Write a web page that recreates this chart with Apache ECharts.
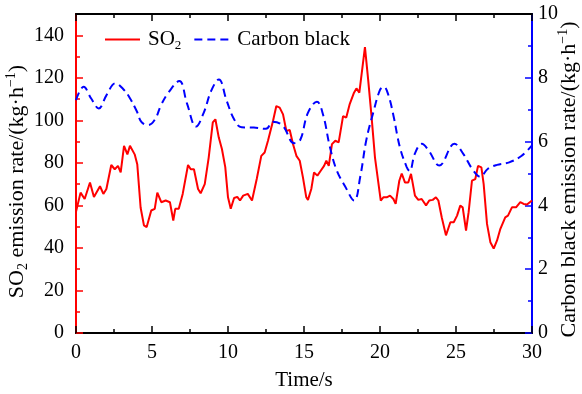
<!DOCTYPE html>
<html>
<head>
<meta charset="utf-8">
<script src="https://cdn.jsdelivr.net/npm/echarts@6/dist/echarts.min.js"></script>
<style>html,body{margin:0;padding:0;background:#fff;}#c{width:582px;height:394px;}</style>
</head>
<body>
<div id="c"></div>
<script>
// Time (s) and SO2 emission rate (kg/h)
const timeSO2 = [0,0.3,0.57,0.92,1.18,1.58,1.8,2.0,2.32,2.55,2.76,2.94,3.16,3.38,3.55,3.86,4.03,4.25,4.47,4.65,4.95,5.18,5.35,5.61,5.9,6.18,6.4,6.53,6.76,7.02,7.37,7.55,7.76,8.03,8.2,8.47,8.73,9.0,9.17,9.39,9.6,9.82,10.0,10.18,10.4,10.61,10.79,11.0,11.3,11.58,11.89,12.19,12.41,12.63,12.96,13.18,13.4,13.62,13.84,14.06,14.28,14.5,14.72,14.93,15.15,15.26,15.48,15.66,15.88,16.1,16.32,16.47,16.63,16.84,17.06,17.28,17.57,17.78,18.0,18.29,18.45,18.64,19.01,19.23,19.45,19.67,20.05,20.22,20.44,20.66,20.88,21.03,21.27,21.43,21.64,21.86,22.04,22.3,22.52,22.74,23.03,23.24,23.47,23.68,23.84,24.06,24.34,24.63,24.85,25.07,25.28,25.44,25.66,25.83,26.05,26.27,26.45,26.67,26.82,27.04,27.26,27.48,27.7,27.92,28.24,28.42,28.68,28.95,29.23,29.45,29.67,30.0];
const so2 = [57,66,63,70.8,64,69,65.4,67.7,79,77,78.6,75.5,88,84,88,84,79.4,59,50.6,49.8,57.6,58.4,66,61.5,62.3,61.5,52.9,58.4,58.4,65.4,79,77,77,67.7,65.7,70,82.5,99,100.5,92,86.5,78,63.8,58.4,63.5,64,62.3,64.6,65.4,62.3,72.4,83.3,84.9,90.4,99.7,106.7,106,102.8,95,95.5,88.8,83.3,81,73.2,63.8,62.6,67.7,75.5,74,76.3,78.6,81,78.6,88.8,90.4,89.6,102,101.3,107.5,113,115,113,134.4,118.4,101.3,82.5,62.3,63.8,63.8,64.6,63,60.7,71.6,75,70.8,70.8,74.8,64.6,62.6,63,60,62.3,62.6,63.8,62.3,54.4,45.9,52.1,52.1,55.2,59.9,59.1,48.2,56.8,71.6,72.4,78.6,77.9,70,51.3,42.7,39.7,43.5,49,54.4,55.2,59.1,59.1,61.5,60.7,60.4,62.3];

// Time (s) and carbon black emission rate (kg/h)
const timeCB = [0,0.5,1.0,1.5,2.0,2.6,3.1,3.5,4.0,4.3,4.75,5.2,5.6,6.1,6.8,7.3,7.9,8.4,8.9,9.4,9.9,10.4,10.9,11.7,12.5,12.95,13.6,14.35,14.75,15.25,15.85,16.25,16.7,17.15,17.7,18.3,18.7,19.1,19.55,20.0,20.25,20.55,20.9,21.3,21.75,21.95,22.3,22.75,23.2,23.9,24.9,25.5,26.1,26.6,27.1,27.7,28.5,29.3,30.0];
const carbonBlack = [7.3,7.72,7.35,7.04,7.45,7.83,7.65,7.4,6.95,6.62,6.52,6.7,7.15,7.55,7.9,7.2,6.47,6.9,7.6,7.95,7.3,6.7,6.45,6.44,6.4,6.62,6.5,5.95,6.05,6.89,7.25,6.85,5.84,5.1,4.6,4.15,4.9,6.05,6.9,7.62,7.72,7.46,6.78,5.84,5.21,5.08,5.63,5.93,5.72,5.25,5.93,5.6,5.12,4.9,5.15,5.27,5.35,5.55,5.88];

const SO2_MAX = 150;

const FONT = "'Liberation Serif','Times New Roman',serif";
const RED = '#ff0000';
const BLUE = '#0000ff';

function rich(size) {
  return {
    n: {fontFamily: FONT, fontSize: size, lineHeight: size + 4, color: '#000'},
    sub: {fontFamily: FONT, fontSize: Math.round(size * 0.62), lineHeight: Math.round(size * 0.62), verticalAlign: 'bottom', color: '#000'},
    sup: {fontFamily: FONT, fontSize: Math.round(size * 0.62), lineHeight: Math.round(size * 0.62), verticalAlign: 'top', color: '#000'}
  };
}

const chart = echarts.init(document.getElementById('c'), null, {renderer: 'canvas'});

function xAxisBase(position, showLabel) {
  return {
    show: true,
    type: 'value', min: 0, max: 30, interval: 5, position: position,
    splitLine: {show: false},
    axisLine: {show: true, onZero: false, lineStyle: {color: '#000', width: 2}},
    axisTick: {show: true, inside: true, length: 7, lineStyle: {color: '#000', width: 1.5}},
    minorTick: {show: true, splitNumber: 2, length: 4, lineStyle: {color: '#000', width: 1.5}},
    minorSplitLine: {show: false},
    axisLabel: {show: showLabel, fontFamily: FONT, fontSize: 20, color: '#000', margin: 10}
  };
}

chart.setOption({
  animation: false,
  backgroundColor: '#fff',
  grid: {left: 76, right: 50, top: 14, bottom: 61, containLabel: false, outerBoundsMode: 'none',
    show: true, borderColor: '#000', borderWidth: 2, backgroundColor: 'transparent'},
  legend: {
    left: 104, top: 29, padding: 0,
    itemWidth: 35, itemHeight: 14, itemGap: 12,
    data: ['SO2', 'Carbon black'],
    itemStyle: {opacity: 0},
    formatter: function (name) {
      return name === 'SO2' ? '{n|SO}{sub|2}' : '{n|' + name + '}';
    },
    textStyle: {fontFamily: FONT, fontSize: 21, color: '#000', rich: rich(21), padding: [0, 0, 0, 3]}
  },
  xAxis: [
    Object.assign(xAxisBase('bottom', true), {
      name: 'Time/s', nameLocation: 'middle', nameGap: 37, nameMoveOverlap: false,
      nameTextStyle: {fontFamily: FONT, fontSize: 21, color: '#000'}
    }),
    xAxisBase('top', false)
  ],
  yAxis: [
    {
      type: 'value', min: 0, max: SO2_MAX, interval: 20, position: 'left',
      name: '{n|SO}{sub|2}{n| emission rate/(kg·h}{sup|−1}{n|)}',
      nameLocation: 'middle', nameRotate: 90, nameGap: 46, nameMoveOverlap: false,
      nameTextStyle: {fontFamily: FONT, fontSize: 22, color: '#000', rich: rich(22), padding: [0, 16, 0, 0]},
      splitLine: {show: false},
      axisLine: {show: true, onZero: false, lineStyle: {color: RED, width: 2}},
      axisTick: {show: true, inside: true, length: 7, lineStyle: {color: RED, width: 1.5}},
      minorTick: {show: true, splitNumber: 2, length: 4, lineStyle: {color: RED, width: 1.5}},
      minorSplitLine: {show: false},
      axisLabel: {fontFamily: FONT, fontSize: 20, color: '#000', margin: 12, showMaxLabel: false}
    },
    {
      type: 'value', min: 0, max: 10, interval: 2, position: 'right',
      name: '{n|Carbon black emission rate/(kg·h}{sup|−1}{n|)}',
      nameLocation: 'middle', nameRotate: 90, nameGap: 24, nameMoveOverlap: false,
      nameTextStyle: {fontFamily: FONT, fontSize: 22, color: '#000', rich: rich(22), padding: [0, 12, 0, 0]},
      splitLine: {show: false},
      axisLine: {show: true, onZero: false, lineStyle: {color: BLUE, width: 2}},
      axisTick: {show: true, inside: true, length: 7, lineStyle: {color: BLUE, width: 1.5}},
      minorTick: {show: true, splitNumber: 2, length: 4, lineStyle: {color: BLUE, width: 1.5}},
      minorSplitLine: {show: false},
      axisLabel: {fontFamily: FONT, fontSize: 20, color: '#000', margin: 6}
    }
  ],
  series: [
    {
      name: 'SO2', type: 'line', xAxisIndex: 0, yAxisIndex: 0,
      data: timeSO2.map((t, i) => [t, so2[i]]),
      symbol: 'none', smooth: false,
      lineStyle: {color: RED, width: 2},
      itemStyle: {color: RED},
      markLine: {
        silent: true, symbol: ['none', 'none'], animation: false,
        label: {show: false},
        lineStyle: {color: '#000', width: 2, type: 'solid'},
        data: [{yAxis: SO2_MAX}]
      }
    },
    {
      name: 'Carbon black', type: 'line', xAxisIndex: 0, yAxisIndex: 1,
      data: timeCB.map((t, i) => [t, carbonBlack[i]]),
      symbol: 'none', smooth: 0.4,
      lineStyle: {color: BLUE, width: 2, type: [8, 5]},
      itemStyle: {color: BLUE}
    },
    {name: '_top', type: 'line', xAxisIndex: 1, yAxisIndex: 0, data: [], symbol: 'none', silent: true}
  ]
});
</script>
</body>
</html>
